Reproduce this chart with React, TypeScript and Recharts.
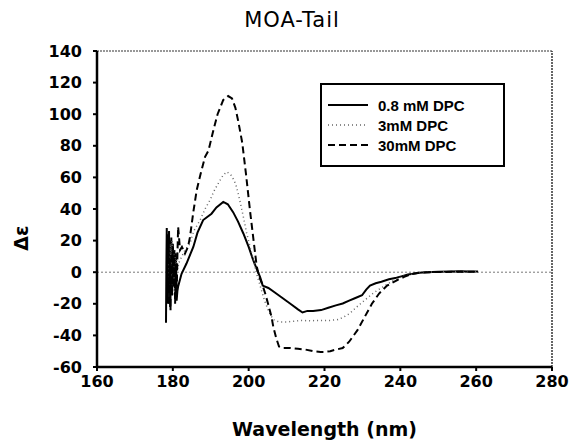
import React from 'react';
import { LineChart, Line, XAxis, YAxis, ReferenceLine } from 'recharts';

// 0.8 mM DPC (solid)
const wl08 = [
  178.2, 178.3, 178.4, 178.5, 178.6, 178.7, 178.8, 178.9, 179.0, 179.1, 179.2, 179.3, 179.4, 179.5,
  179.6, 179.7, 179.8, 179.9, 180.0, 180.2, 180.4, 180.6, 180.8, 181.0, 181.2, 181.4,
  182.3, 183.6, 185.4, 186.5, 188.0, 190.2, 191.5, 193.3, 194.5, 195.9, 197.2, 198.6, 200.0, 201.2,
  202.3, 203.0, 203.7, 205.2, 207.0, 209.0, 211.0, 213.0, 214.2, 215.5, 217.0, 219.1, 221.0, 223.0,
  224.8, 226.5, 228.0, 229.9, 231.0, 232.0, 233.5, 235.0, 237.0, 239.0, 240.5, 242.0, 243.5, 245.0,
  247.0, 250.0, 253.0, 256.0, 258.0, 260.5,
];
const de08 = [
  -32, 5, 28, -15, 24, -20, 18, -8, 26, -12, 20, -22, 15, 0,
  22, -10, 12, -5, 18, -6, 14, -10, 12, -18, -12, -9,
  -1, 5.5, 16, 25, 33, 37, 41, 44.5, 43, 38, 32, 24.5, 16, 7.6,
  1, -3, -8.5, -10, -13, -16.5, -20, -23.5, -25.5, -24.5, -24.5, -24, -22.5, -21,
  -19.8, -18, -16.5, -14.6, -11, -8.5, -7, -6, -4.5, -3.5, -2.5, -1.5, -1, -0.3,
  0, 0.3, 0.5, 0.6, 0.5, 0.4,
];

// 3mM DPC (dotted)
const wl3 = [
  179.0, 179.2, 179.4, 179.6, 179.8, 180.0, 180.2, 180.4, 180.6, 180.8, 181.0, 181.3, 181.6,
  182.3, 183.2, 184.5, 185.5, 187.2, 188.5, 189.8, 191.0, 192.4, 193.3, 194.2, 195.2, 196.2, 196.8,
  197.8, 198.6, 199.5, 200.8, 202.1, 203.2, 204.2, 205.3, 206.5, 208.0, 210.0, 212.0, 214.0, 216.2,
  218.0, 221.6, 223.5, 225.0, 226.7, 228.5, 230.6, 233.0, 235.4, 238.0, 240.2, 242.0, 244.0, 246.0,
  250.0, 255.0, 260.0,
];
const de3 = [
  5, -8, 18, -12, 20, -5, 15, -15, 10, -3, 8, 2, 6,
  9.7, 14, 18, 26, 33, 40, 45.6, 52, 58, 61.5, 63.5, 62, 58, 54,
  44, 35, 24.5, 12, -1, -10, -18, -25, -30, -31.5, -31.5, -31, -30.5, -30.8,
  -30.5, -30.5, -30, -28.5, -26, -22, -17.7, -13, -9.3, -5.5, -3, -1.8, -0.8, 0,
  0.2, 0.4, 0.3,
];

// 30mM DPC (dashed)
const wl30 = [
  179.0, 179.2, 179.4, 179.6, 179.8, 180.0, 180.2, 180.4, 180.6, 180.8, 181.0, 181.2, 181.4,
  181.9, 182.4, 183.2, 184.0, 184.5, 185.4, 186.3, 187.3, 188.5, 189.4, 190.5, 191.8, 193.3, 194.6,
  195.6, 196.5, 197.3, 198.3, 199.3, 200.4, 201.3, 202.1, 202.8, 203.5, 204.3, 205.1, 206.0, 206.5,
  207.3, 208.0, 209.0, 211.0, 213.0, 215.0, 217.0, 219.0, 220.0, 221.5, 223.0, 224.8, 226.5, 228.7,
  230.6, 232.5, 234.4, 236.5, 239.2, 241.0, 243.0, 245.0, 248.0, 252.0, 256.0, 260.0,
];
const de30 = [
  -20, 8, -24, 12, -15, 16, -10, 10, -20, 5, -15.6, 10, 28.7,
  14, 16, 11.8, 16, 22, 38, 52, 62, 73, 77, 88, 100, 109, 111.5,
  110, 104, 95, 82, 62, 38, 20, 4, -3, -7, -13, -19.8, -28, -34.6,
  -42, -47, -48, -48, -48.5, -49, -50, -50.5, -50.5, -50, -49, -48, -44, -36.7,
  -28.3, -20, -13.5, -8.5, -5, -3, -1, -0.3, 0, 0.2, 0.3, 0.2,
];

const xTicks = [160, 180, 200, 220, 240, 260, 280];
const yTicks = [-60, -40, -20, 0, 20, 40, 60, 80, 100, 120, 140];

const toPoints = (wl: number[], de: number[]) => wl.map((x, i) => ({ x, y: de[i] }));

const series = [
  { name: '0.8 mM DPC', data: toPoints(wl08, de08), stroke: '#000', width: 2, dash: undefined },
  { name: '3mM DPC', data: toPoints(wl3, de3), stroke: '#666', width: 1.5, dash: '1 3' },
  { name: '30mM DPC', data: toPoints(wl30, de30), stroke: '#000', width: 2, dash: '7 4' },
];

const tickStyle = { fontFamily: 'DejaVu Sans', fontWeight: 'bold', fontSize: 16, fill: '#000' };

const LegendBox = () => (
  <div
    style={{
      position: 'absolute',
      left: 320,
      top: 83,
      width: 185,
      height: 84,
      boxSizing: 'border-box',
      border: '2px solid #000',
      background: '#fff',
      fontFamily: 'Liberation Sans',
      fontWeight: 'bold',
      fontSize: 15,
    }}
  >
    {series.map((s, i) => (
      <div key={s.name} style={{ position: 'absolute', left: 6, top: 10 + i * 20, height: 20, display: 'flex', alignItems: 'center' }}>
        <svg width={40} height={6}>
          <line x1={0} y1={3} x2={40} y2={3} stroke={s.stroke} strokeWidth={s.width} strokeDasharray={s.dash} />
        </svg>
        <span style={{ marginLeft: 10 }}>{s.name}</span>
      </div>
    ))}
  </div>
);

export default function App() {
  return (
    <div style={{ position: 'absolute', left: 0, top: 0, width: 569, height: 446, background: '#fff' }}>
      <div
        style={{
          position: 'absolute',
          left: 0,
          top: 8,
          width: 584,
          textAlign: 'center',
          fontFamily: 'DejaVu Sans',
          fontSize: 21,
          letterSpacing: 1,
        }}
      >
        MOA-Tail
      </div>
      <div
        style={{
          position: 'absolute',
          left: 21,
          top: 238,
          transform: 'translate(-50%, -50%) rotate(-90deg)',
          fontFamily: 'DejaVu Sans',
          fontWeight: 'bold',
          fontSize: 19,
        }}
      >
        Δε
      </div>
      <LineChart width={569} height={446} margin={{ top: 51, right: 17, bottom: 0, left: 0 }}>
        <XAxis
          dataKey="x"
          type="number"
          domain={[160, 280]}
          ticks={xTicks}
          allowDataOverflow
          height={79}
          tick={tickStyle}
          tickSize={4}
          tickMargin={5}
          axisLine={{ stroke: '#000', strokeWidth: 2.5 }}
          tickLine={{ stroke: '#000', strokeWidth: 2 }}
          label={{
            value: 'Wavelength (nm)',
            position: 'insideBottom',
            offset: 10,
            style: { fontFamily: 'DejaVu Sans', fontWeight: 'bold', fontSize: 19, fill: '#000' },
          }}
        />
        <YAxis
          type="number"
          domain={[-60, 140]}
          ticks={yTicks}
          width={97}
          tick={tickStyle}
          tickSize={4}
          tickMargin={11}
          axisLine={{ stroke: '#000', strokeWidth: 2.5 }}
          tickLine={{ stroke: '#000', strokeWidth: 2 }}
        />
        <ReferenceLine y={140} stroke="#333" strokeDasharray="2 1" strokeWidth={1.2} />
        <ReferenceLine x={280} stroke="#333" strokeDasharray="2 1" strokeWidth={1.5} />
        <ReferenceLine y={0} stroke="#777" strokeDasharray="2 2" strokeWidth={1} />
        {series.map((s) => (
          <Line
            key={s.name}
            data={s.data}
            dataKey="y"
            name={s.name}
            type="linear"
            stroke={s.stroke}
            strokeWidth={s.width}
            strokeDasharray={s.dash}
            dot={false}
            activeDot={false}
            isAnimationActive={false}
          />
        ))}
      </LineChart>
      <LegendBox />
    </div>
  );
}
